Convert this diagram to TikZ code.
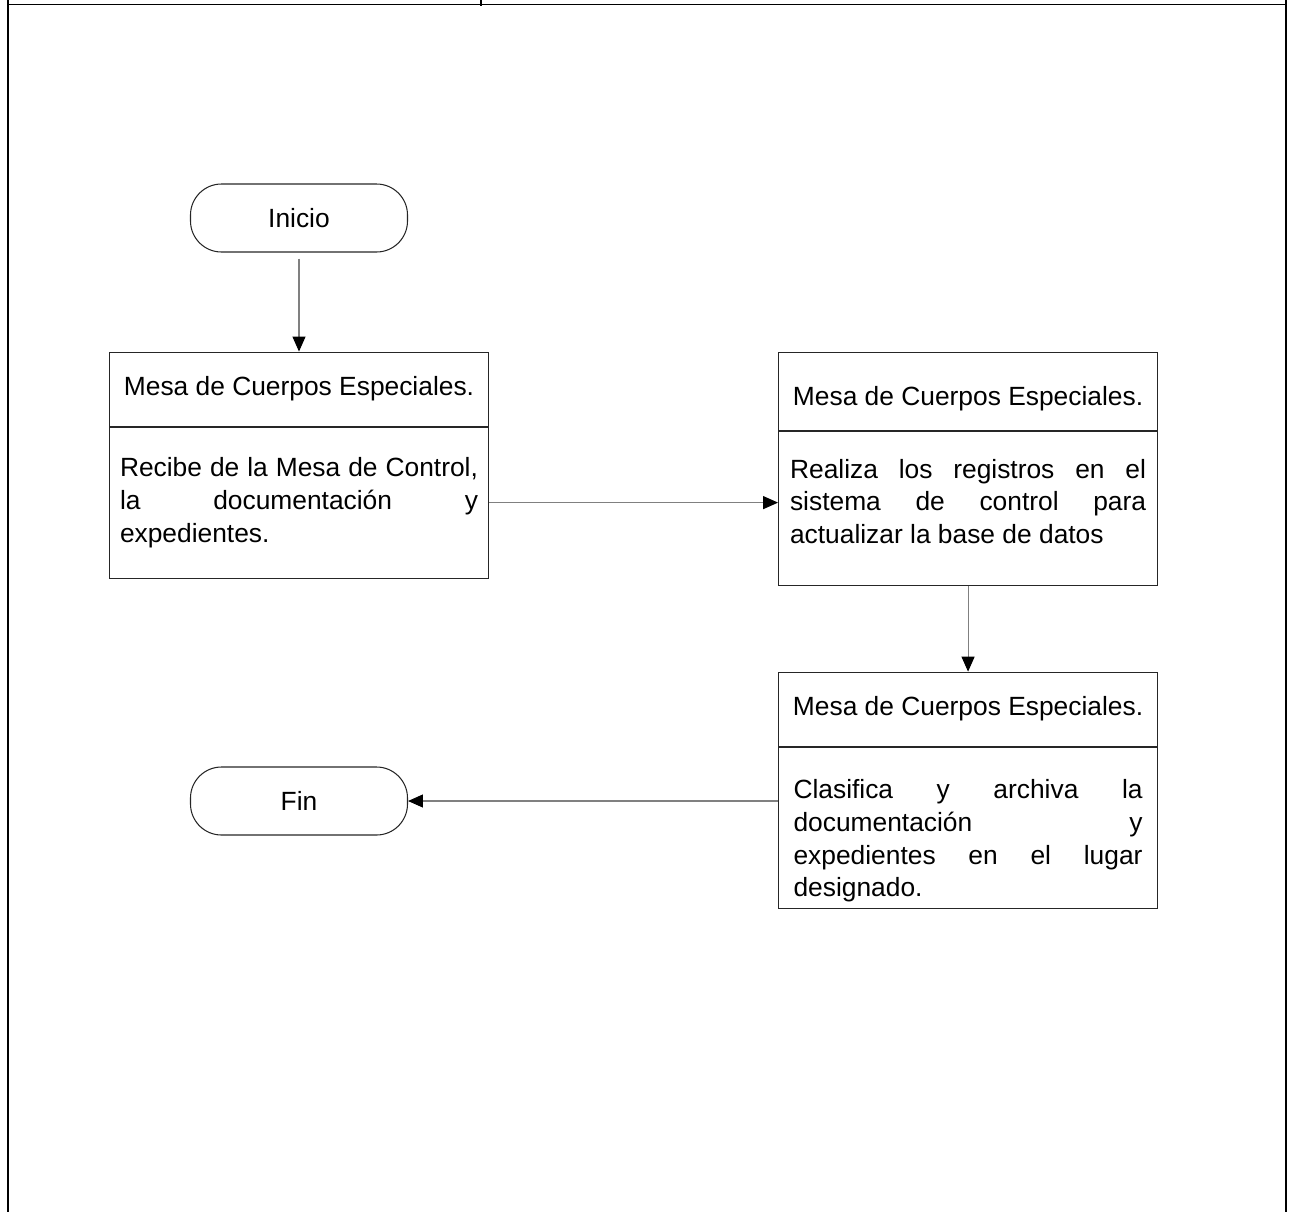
\documentclass[tikz,border=0pt]{standalone}
\usepackage{fontspec}
\setmainfont{Liberation Sans}
\usetikzlibrary{positioning,arrows.meta}

\begin{document}
\begin{tikzpicture}[node distance=2cm, >={Triangle[length=8.5pt,width=7.4pt,color=black]},
    every node/.style={font=\fontsize{15}{18.6}\selectfont},
    terminal/.style={draw=black!85, line width=0.6pt, rounded corners=0.62cm, minimum width=4.34cm, minimum height=1.36cm},
    header/.style={draw=black!85, line width=0.6pt, minimum width=7.58cm, minimum height=1.48cm},
    body/.style={draw=black!85, line width=0.6pt, minimum width=7.58cm, align=justify, inner xsep=0.2cm},
    link/.style={->, draw=gray, line width=0.6pt}]
    \useasboundingbox (0,0) rectangle (25.8,-24.24);

    % Frame of the page
    \draw[line width=0.9pt] (0.16,0) -- (0.16,-24.24);
    \draw[line width=1.3pt] (25.72,0) -- (25.72,-24.24);
    \draw[line width=1.1pt] (0.16,-0.09) -- (25.72,-0.09);
    \draw[line width=0.8pt] (9.62,0) -- (9.62,-0.12);

    % Start
    \node[terminal] (inicio) at (5.98,-4.36) {Inicio};

    % Box 1: receives the documents
    \node[header, below=1.98cm of inicio] (recibeT) {Mesa de Cuerpos Especiales.};
    \node[body, minimum height=3.02cm, text width=7.16cm, below=0pt of recibeT] (recibe) {
    Recibe de la Mesa de Control,\linebreak la documentación y\linebreak expedientes.
    };

    % Box 2: updates the database
    \node[header, minimum height=1.56cm, text height=19pt, right=5.78cm of recibeT.north east, anchor=north west] (registraT) {Mesa de Cuerpos Especiales.};
    \node[body, minimum height=3.08cm, text width=7.12cm, text depth=45pt, below=0pt of registraT] (registra) {
    Realiza los registros en el\linebreak sistema de control para\linebreak actualizar la base de datos
    };

    % Box 3: files the documents
    \node[header, below=1.72cm of registra] (clasificaT) {Mesa de Cuerpos Especiales.};
    \node[body, minimum height=3.18cm, text width=6.98cm, text height=26pt, below=0pt of clasificaT] (clasifica) {
    Clasifica y archiva la\linebreak documentación y\linebreak expedientes en el lugar\linebreak designado.
    };

    % End
    \node[terminal] (fin) at (5.98,-16.02) {Fin};

    % Arrows
    \draw[link, shorten <=0.12cm] (inicio) -- (recibeT);
    \draw[link] (recibe.east) -- (recibe.east -| registra.west);
    \draw[link] (registra) -- (clasificaT);
    \draw[link] (fin.east -| clasifica.west) -- (fin);
\end{tikzpicture}
\end{document}
